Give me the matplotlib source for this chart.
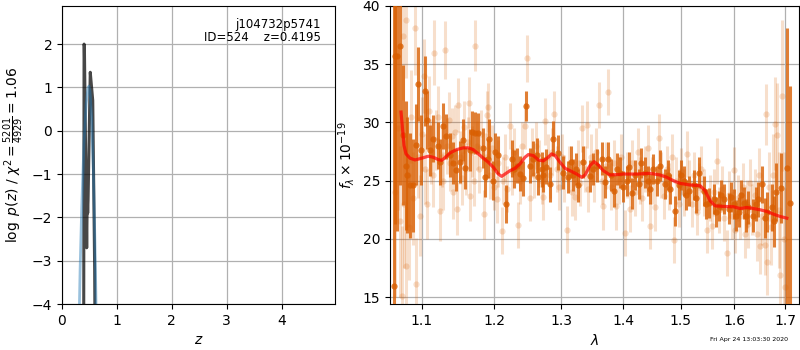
import numpy as np
import matplotlib
matplotlib.use("Agg")
import matplotlib.pyplot as plt
from matplotlib.ticker import FixedLocator, FixedFormatter, NullLocator

# ---------------- data ----------------
# left panel: p(z)
z_chi = [0.395, 0.402, 0.408, 0.450, 0.460, 0.468, 0.475, 0.515, 0.525, 0.553, 0.560, 0.595, 0.603]
logp_chi = [-5.0, 2.0, 1.95, -2.7, -1.5, -1.9, -1.6, 1.35, 1.2, 0.8, 0.7, -3.2, -5.0]

z_pz = [0.31, 0.33, 0.36, 0.40, 0.44, 0.47, 0.49, 0.51, 0.54, 0.57, 0.60, 0.62, 0.64]
logp_pz = [-4.5, -3.2, -1.75, -0.30, 0.62, 0.96, 1.03, 0.91, 0.29, -0.87, -2.57, -4.0, -5.8]

zlim = (0.0, 4.97)
logp_lim = (-4.0, 2.88)
z_ticks = [0, 1, 2, 3, 4]
logp_ticks = [-4, -3, -2, -1, 0, 1, 2]

# right panel: spectrum
lam_dark = [1.0641, 1.0657, 1.0683, 1.0714, 1.0756, 1.0799, 1.0808, 1.0843, 1.0886, 1.0929,
            1.0951, 1.0995, 1.1040, 1.1074, 1.1106, 1.1150, 1.1221, 1.1240, 1.1285, 1.1329,
            1.1375, 1.1420, 1.1465, 1.1512, 1.1558, 1.1590, 1.1651, 1.1679, 1.1730, 1.1768,
            1.1839, 1.1863, 1.1910, 1.1925, 1.1986, 1.2015, 1.2059, 1.2174, 1.2252, 1.2280,
            1.2326, 1.2371, 1.2420, 1.2469, 1.2525, 1.2570, 1.2626, 1.2646, 1.2701, 1.2722,
            1.2772, 1.2828, 1.2875, 1.2953, 1.3036, 1.3109, 1.3150, 1.3188, 1.3230, 1.3267,
            1.3352, 1.3459, 1.3510, 1.3568, 1.3648, 1.3703, 1.3758, 1.3800, 1.3852, 1.3900,
            1.3951, 1.4000, 1.4062, 1.4100, 1.4147, 1.4200, 1.4263, 1.4310, 1.4374, 1.4420,
            1.4466, 1.4520, 1.4583, 1.4641, 1.4729, 1.4770, 1.4818, 1.4895, 1.4967, 1.5010,
            1.5056, 1.5100, 1.5147, 1.5239, 1.5285, 1.5330, 1.5421, 1.5470, 1.5515, 1.5608,
            1.5650, 1.5702, 1.5750, 1.5795, 1.5887, 1.5930, 1.5985, 1.6030, 1.6082, 1.6130,
            1.6179, 1.6225, 1.6271, 1.6369, 1.6420, 1.6467, 1.6545, 1.6590, 1.6630, 1.6733,
            1.6780, 1.6820, 1.6915, 1.7048, 1.7103]
flux_dark = [16.0, 35.7, 35.7, 36.6, 28.9, 26.3, 25.5, 24.6, 24.6, 28.1,
             33.3, 27.6, 32.7, 30.2, 27.6, 28.6, 28.0, 26.6, 29.7, 28.8,
             27.2, 26.5, 25.9, 26.6, 28.5, 26.1, 27.6, 29.2, 29.1, 29.1,
             27.8, 25.3, 26.9, 28.6, 25.0, 27.5, 27.2, 23.0, 26.9, 26.0,
             26.3, 25.6, 25.2, 31.4, 26.3, 26.9, 27.2, 25.3, 26.0, 25.5,
             26.2, 24.7, 28.6, 27.4, 25.7, 25.3, 26.6, 25.5, 26.0, 24.6,
             26.6, 25.4, 26.0, 26.3, 26.9, 24.9, 26.9, 25.5, 24.1, 26.0,
             25.7, 24.5, 25.0, 26.2, 23.9, 25.5, 24.7, 26.5, 25.7, 25.0,
             24.3, 26.0, 25.0, 26.3, 24.7, 25.5, 24.3, 22.4, 24.6, 25.5,
             25.0, 23.8, 24.1, 24.6, 23.5, 25.7, 24.1, 23.0, 23.1, 23.4,
             22.3, 22.8, 23.8, 23.4, 22.6, 23.6, 23.0, 22.0, 22.3, 23.8,
             23.1, 22.0, 22.7, 22.0, 23.0, 23.4, 24.7, 21.8, 22.3, 22.7,
             21.5, 24.0, 24.4, 26.1, 23.1]
err_dark = [25.0, 14.4, 15.0, 12.0, 6.0, 5.5, 5.0, 4.5, 4.0, 3.5,
            3.2, 3.0, 3.0, 2.5, 2.2, 2.0, 2.0, 2.0, 2.0, 1.9,
            1.9, 1.8, 1.8, 1.8, 1.8, 1.8, 1.8, 1.8, 1.8, 1.7,
            1.7, 1.7, 1.7, 1.7, 1.7, 1.6, 1.6, 1.6, 1.6, 1.6,
            1.5, 1.5, 1.5, 1.3, 1.5, 1.5, 1.5, 1.5, 1.5, 1.5,
            1.5, 1.5, 1.5, 1.5, 1.4, 1.4, 1.4, 1.4, 1.4, 1.4,
            1.4, 1.4, 1.4, 1.4, 1.4, 1.4, 1.4, 1.4, 1.4, 1.4,
            1.3, 1.3, 1.3, 1.3, 1.3, 1.3, 1.3, 1.3, 1.3, 1.3,
            1.3, 1.3, 1.3, 1.3, 1.3, 1.3, 1.3, 1.3, 1.3, 1.3,
            1.3, 1.3, 1.3, 1.3, 1.3, 1.3, 1.3, 1.3, 1.3, 1.3,
            1.3, 1.3, 1.3, 1.3, 1.3, 1.3, 1.3, 1.3, 1.3, 1.3,
            1.4, 1.4, 1.4, 1.4, 1.5, 1.5, 1.6, 1.7, 1.7, 2.0,
            2.2, 2.5, 3.0, 12.0, 10.0]

lam_light = [1.0655, 1.0690, 1.0715, 1.0739, 1.0752, 1.0770, 1.0795, 1.0800, 1.0820, 1.0840,
             1.0865, 1.0885, 1.0912, 1.0925, 1.0950, 1.0978, 1.1000, 1.1025, 1.1050, 1.1075,
             1.1100, 1.1125, 1.1145, 1.1167, 1.1190, 1.1215, 1.1243, 1.1265, 1.1290, 1.1311,
             1.1335, 1.1360, 1.1380, 1.1405, 1.1425, 1.1450, 1.1471, 1.1494, 1.1520, 1.1545,
             1.1570, 1.1600, 1.1625, 1.1647, 1.1656, 1.1680, 1.1705, 1.1726, 1.1750, 1.1780,
             1.1810, 1.1853, 1.1875, 1.1891, 1.1914, 1.1940, 1.1965, 1.2000, 1.2035, 1.2060,
             1.2106, 1.2130, 1.2160, 1.2190, 1.2228, 1.2260, 1.2290, 1.2341, 1.2370, 1.2400,
             1.2450, 1.2485, 1.2525, 1.2555, 1.2590, 1.2620, 1.2660, 1.2700, 1.2726, 1.2751,
             1.2790, 1.2830, 1.2860, 1.2890, 1.2930, 1.2970, 1.3010, 1.3050, 1.3098, 1.3130,
             1.3170, 1.3219, 1.3260, 1.3300, 1.3325, 1.3370, 1.3406, 1.3430, 1.3480, 1.3520,
             1.3560, 1.3611, 1.3650, 1.3675, 1.3720, 1.3758, 1.3800, 1.3850, 1.3885, 1.3930,
             1.3970, 1.4034, 1.4070, 1.4119, 1.4160, 1.4200, 1.4250, 1.4290, 1.4330, 1.4380,
             1.4420, 1.4454, 1.4500, 1.4554, 1.4612, 1.4650, 1.4700, 1.4750, 1.4800, 1.4840,
             1.4878, 1.4920, 1.4970, 1.5010, 1.5060, 1.5116, 1.5160, 1.5200, 1.5250, 1.5300,
             1.5340, 1.5380, 1.5430, 1.5483, 1.5530, 1.5577, 1.5620, 1.5671, 1.5710, 1.5760,
             1.5800, 1.5857, 1.5900, 1.5950, 1.5985, 1.6017, 1.6060, 1.6114, 1.6160, 1.6211,
             1.6240, 1.6271, 1.6310, 1.6350, 1.6400, 1.6435, 1.6470, 1.6500, 1.6540, 1.6598,
             1.6618, 1.6631, 1.6680, 1.6720, 1.6760, 1.6800, 1.6834, 1.6870, 1.6901, 1.6935,
             1.6970, 1.7003]
flux_light = [24.0, 29.5, 21.5, 15.1, 37.4, 23.0, 38.8, 17.7, 25.5, 21.0,
              30.5, 23.5, 38.1, 16.1, 27.0, 22.0, 29.0, 34.0, 26.0, 23.0,
              31.0, 27.5, 25.5, 36.0, 28.5, 30.5, 22.4, 27.0, 25.0, 36.2,
              28.0, 30.2, 26.5, 28.8, 24.0, 29.2, 22.6, 31.5, 27.0, 25.2,
              29.6, 26.0, 28.3, 31.7, 23.7, 27.5, 25.0, 36.6, 28.0, 26.0,
              29.0, 22.1, 27.0, 30.6, 31.3, 25.5, 27.8, 24.5, 23.4, 26.5,
              20.7, 25.0, 27.0, 24.3, 29.7, 25.8, 27.5, 21.2, 25.0, 28.0,
              29.7, 35.5, 23.5, 27.5, 25.5, 28.0, 26.5, 25.0, 23.6, 30.1,
              27.0, 25.5, 27.5, 30.7, 26.0, 24.5, 27.0, 25.2, 20.8, 26.0,
              24.0, 23.6, 26.5, 24.8, 29.5, 26.0, 29.8, 24.3, 27.0, 25.2,
              27.5, 31.5, 25.0, 22.8, 26.3, 32.6, 24.5, 26.5, 22.8, 25.0,
              27.0, 20.5, 25.5, 22.6, 26.5, 24.0, 27.5, 25.0, 23.5, 26.0,
              27.8, 21.1, 25.0, 22.7, 28.7, 25.5, 23.7, 26.0, 24.5, 27.0,
              19.9, 25.0, 23.0, 25.8, 24.0, 27.3, 24.8, 23.0, 25.5, 22.3,
              24.5, 26.0, 24.0, 20.8, 23.5, 21.1, 24.0, 26.7, 22.5, 24.3,
              21.8, 18.8, 23.8, 22.0, 25.9, 20.8, 23.5, 22.0, 24.5, 20.4,
              23.0, 21.3, 24.8, 22.5, 23.8, 20.4, 25.5, 19.4, 22.0, 19.5,
              30.7, 18.0, 24.5, 21.0, 25.5, 29.9, 28.9, 22.5, 16.9, 32.3,
              20.0, 15.9]
err_light = [9.0, 7.0, 6.5, 6.0, 5.5, 5.5, 5.0, 5.0, 4.5, 4.5,
             4.0, 4.0, 4.0, 4.0, 3.5, 3.5, 3.2, 3.2, 3.0, 3.0,
             3.0, 2.8, 2.8, 2.8, 2.6, 2.6, 2.6, 2.5, 2.5, 2.5,
             2.4, 2.4, 2.4, 2.4, 2.3, 2.3, 2.3, 2.3, 2.3, 2.3,
             2.2, 2.2, 2.2, 2.2, 2.2, 2.2, 2.2, 2.2, 2.1, 2.1,
             2.1, 2.1, 2.1, 2.1, 2.1, 2.1, 2.0, 2.0, 2.0, 2.0,
             2.0, 2.0, 2.0, 2.0, 2.0, 2.0, 2.0, 2.0, 2.0, 2.0,
             2.0, 2.0, 2.0, 2.0, 2.0, 2.0, 2.0, 2.0, 2.0, 2.0,
             2.0, 2.0, 2.0, 2.0, 2.0, 2.0, 2.0, 2.0, 2.0, 2.0,
             2.0, 2.0, 2.0, 2.0, 2.0, 2.0, 2.0, 2.0, 2.0, 2.0,
             2.0, 2.0, 2.0, 2.0, 2.0, 2.0, 2.0, 2.0, 2.0, 2.0,
             2.0, 2.0, 2.0, 2.0, 2.0, 2.0, 2.0, 2.0, 2.0, 2.0,
             2.0, 2.0, 2.0, 2.0, 2.0, 2.0, 2.0, 2.0, 2.0, 2.0,
             2.0, 2.0, 2.0, 2.0, 2.0, 2.0, 2.0, 2.0, 2.0, 2.0,
             2.0, 2.0, 2.0, 2.0, 2.0, 2.0, 2.0, 2.0, 2.0, 2.0,
             2.0, 2.0, 2.0, 2.0, 2.0, 2.0, 2.0, 2.0, 2.0, 2.0,
             2.1, 2.1, 2.1, 2.2, 2.2, 2.3, 2.3, 2.4, 2.5, 2.6,
             2.6, 2.8, 3.0, 3.2, 3.5, 4.0, 4.5, 5.0, 5.5, 6.5,
             7.5, 8.5]

lam_model = [1.0731, 1.0769, 1.0795, 1.0847, 1.0912, 1.1000, 1.1087, 1.1154, 1.1221, 1.1267,
             1.1312, 1.1380, 1.1471, 1.1562, 1.1632, 1.1701, 1.1772, 1.1843, 1.1914, 1.1985,
             1.2057, 1.2107, 1.2155, 1.2228, 1.2301, 1.2375, 1.2449, 1.2499, 1.2574, 1.2650,
             1.2726, 1.2802, 1.2854, 1.2905, 1.2983, 1.3061, 1.3139, 1.3245, 1.3325, 1.3378,
             1.3458, 1.3523, 1.3592, 1.3674, 1.3785, 1.3896, 1.4006, 1.4233, 1.4461, 1.4636,
             1.4754, 1.4871, 1.4991, 1.5172, 1.5355, 1.5447, 1.5540, 1.5634, 1.5790, 1.5980,
             1.6109, 1.6239, 1.6368, 1.6500, 1.6633, 1.6765, 1.6901, 1.7037]
flux_model = [30.89, 28.02, 27.30, 26.93, 26.78, 26.93, 27.10, 27.01, 26.81, 26.75,
              26.98, 27.39, 27.67, 27.82, 27.82, 27.67, 27.30, 26.93, 26.58, 26.15,
              25.57, 25.37, 25.57, 25.86, 26.06, 26.44, 27.01, 27.24, 27.16, 26.78,
              26.70, 27.01, 27.30, 27.16, 26.58, 26.06, 25.86, 25.57, 25.29, 25.49,
              26.29, 26.64, 26.35, 25.86, 25.49, 25.52, 25.57, 25.57, 25.63, 25.49,
              25.29, 25.00, 24.77, 24.63, 24.57, 24.14, 23.28, 22.84, 22.79, 22.76,
              22.61, 22.70, 22.61, 22.50, 22.36, 22.13, 21.93, 21.78]

lam_lim = (1.0590, 1.7288)
flux_lim = (14.4, 40.0)
lam_ticks = [1.1, 1.2, 1.3, 1.4, 1.5, 1.6, 1.7]
lam_ticklabels = ["1.1", "1.2", "1.3", "1.4", "1.5", "1.6", "1.7"]
flux_ticks = [15, 20, 25, 30, 35, 40]

# ---------------- plot ----------------
plt.rcParams['font.family'] = ['DejaVu Sans']
fig = plt.figure(figsize=(8, 3.5), dpi=100)
ax1 = fig.add_axes([0.0775, 0.131, 0.341, 0.852])
ax2 = fig.add_axes([0.4875, 0.131, 0.5113, 0.852])

orange = '#d95f02'

ax1.plot(z_chi, logp_chi, color='k', alpha=0.72, lw=2.2, zorder=3)
ax1.plot(z_pz, logp_pz, color='tab:blue', alpha=0.45, lw=2.0, zorder=4)
ax1.set_xlim(*zlim)
ax1.set_ylim(*logp_lim)
ax1.set_xticks(z_ticks)
ax1.set_yticks(logp_ticks)
ax1.grid(True, color='#b0b0b0', lw=0.9)
ax1.set_axisbelow(True)
ax1.set_xlabel(r'$z$', fontsize=10)
ax1.set_ylabel(r'$\log\ p(z)$ / $\chi^2=\frac{5201}{4929}=1.06$', fontsize=10)
ax1.text(0.95, 0.96, 'j104732p5741\nID=524    z=0.4195', transform=ax1.transAxes,
         ha='right', va='top', fontsize=8.5, linespacing=1.05)

ax2.errorbar(lam_light, flux_light, yerr=err_light, fmt='o', color=orange, alpha=0.2,
             ms=4.5, mew=0, elinewidth=2.2, capsize=0, zorder=2)
ax2.errorbar(lam_dark, flux_dark, yerr=err_dark, fmt='o', color=orange, alpha=0.8,
             ms=4.5, mew=0, elinewidth=2.2, capsize=0, zorder=3)
ax2.plot(lam_model, flux_model, color='r', alpha=0.7, lw=2.3, zorder=4,
         solid_joinstyle='round')
ax2.set_xscale('log')
ax2.set_xlim(*lam_lim)
ax2.set_ylim(*flux_lim)
ax2.xaxis.set_major_locator(FixedLocator(lam_ticks))
ax2.xaxis.set_major_formatter(FixedFormatter(lam_ticklabels))
ax2.xaxis.set_minor_locator(NullLocator())
ax2.set_yticks(flux_ticks)
ax2.grid(True, color='#b0b0b0', lw=0.9)
ax2.set_axisbelow(True)
ax2.set_xlabel(r'$\lambda$', fontsize=10)
ax2.set_ylabel(r'$f_\lambda\times10^{-19}$', fontsize=10)

for ax in (ax1, ax2):
    ax.tick_params(labelsize=10)

fig.text(0.985, 0.031, 'Fri Apr 24 13:03:30 2020', ha='right', va='center', fontsize=4.5)

fig.savefig('out.png', dpi=100)
